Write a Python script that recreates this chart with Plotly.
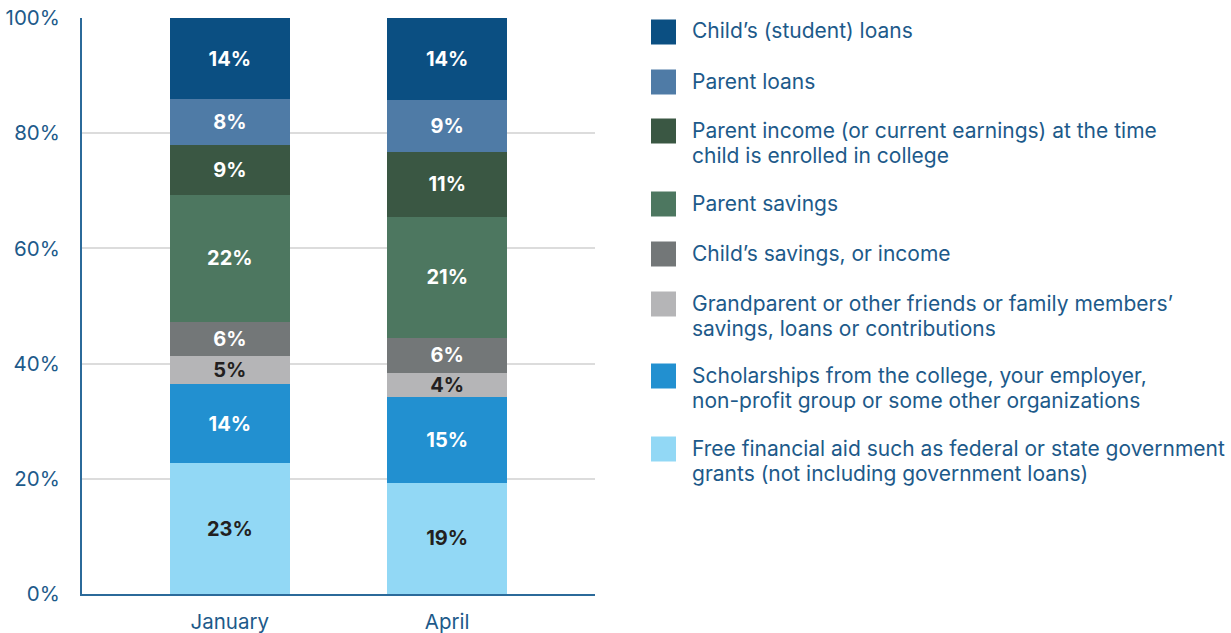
import plotly.graph_objects as go

categories = ["January", "April"]
series_names = [
    "Free financial aid such as federal or state government<br>grants (not including government loans)",
    "Scholarships from the college, your employer,<br>non-profit group or some other organizations",
    "Grandparent or other friends or family members’<br>savings, loans or contributions",
    "Child’s savings, or income",
    "Parent savings",
    "Parent income (or current earnings) at the time<br>child is enrolled in college",
    "Parent loans",
    "Child’s (student) loans",
]
free_aid = [22.7, 19.3]
scholarships = [13.7, 14.9]
grandparent = [5.0, 4.2]
child_savings = [5.9, 6.1]
parent_savings = [21.9, 21.0]
parent_income = [8.7, 11.3]
parent_loans = [8.0, 8.9]
child_loans = [14.1, 14.3]
values = [free_aid, scholarships, grandparent, child_savings, parent_savings,
          parent_income, parent_loans, child_loans]
labels = [["23%", "19%"], ["14%", "15%"], ["5%", "4%"], ["6%", "6%"],
          ["22%", "21%"], ["9%", "11%"], ["8%", "9%"], ["14%", "14%"]]
colors = ["#92d8f5", "#2290d0", "#b5b5b7", "#737778", "#4d7760", "#3a5743", "#4f7ba6", "#0b4f82"]
text_colors = ["#231f20", "white", "#231f20", "white", "white", "white", "white", "white"]
y_ticks = [0, 20, 40, 60, 80, 100]
y_tick_labels = ["0%", "20%", "40%", "60%", "80%", "100%"]

FONT = "Inter"
TXT = "#1d5a8a"

fig = go.Figure()
for name, vals, lab, col, tcol in zip(series_names, values, labels, colors, text_colors):
    fig.add_trace(go.Bar(
        x=categories, y=vals, name=name, marker=dict(color=col, line=dict(width=0)),
        text=lab, textposition="inside", insidetextanchor="middle", textangle=0,
        constraintext="none",
        textfont=dict(family=FONT, size=20, color=tcol, weight="bold"),
        width=0.553, showlegend=False,
    ))

W, H = 1231, 633
L, R, T, B = 82, 595, 18, 594

def px_x(px):
    return (px - L) / (R - L)

def px_y(py):
    return (B - py) / (B - T)

legend_centers = [449, 376, 304, 254, 204, 131, 82, 32]
line_gap = 25
shapes = []
annotations = []
for name, col, cy in zip(series_names, colors, legend_centers):
    shapes.append(dict(type="rect", xref="paper", yref="paper",
                       x0=px_x(651), x1=px_x(676), y0=px_y(cy + 12.5), y1=px_y(cy - 12.5),
                       fillcolor=col, line=dict(width=0)))
    for i, line in enumerate(name.split("<br>")):
        annotations.append(dict(xref="paper", yref="paper", x=px_x(690), y=px_y(cy - 1 + i * line_gap),
                                xanchor="left", yanchor="middle", align="left", showarrow=False,
                                text=line, font=dict(family=FONT, size=21, color=TXT)))

fig.update_layout(
    width=W, height=H, margin=dict(l=L, r=W - R, t=T, b=H - B, autoexpand=False),
    barmode="stack", plot_bgcolor="white", paper_bgcolor="white",
    xaxis=dict(range=[-0.68, 1.68], showline=True, linecolor="#2b6a9a", linewidth=2,
               tickfont=dict(family=FONT, size=20.5, color=TXT), ticks="", showgrid=False,
               automargin=False, ticklabelstandoff=8, ticklabeloverflow="allow"),
    yaxis=dict(range=[0, 100], tickvals=y_ticks, ticktext=y_tick_labels,
               showline=True, linecolor="#2b6a9a", linewidth=2, showgrid=True,
               gridcolor="#dcdcdc", gridwidth=1.5, zeroline=False, automargin=False,
               ticklabeloverflow="allow",
               tickfont=dict(family=FONT, size=20.5, color=TXT), ticks="", ticklabelstandoff=16),
    shapes=shapes, annotations=annotations, uniformtext=dict(mode=False),
)
fig.write_html("out.html", config={"displayModeBar": False},
               post_script="document.body.style.margin='0';document.body.style.overflow='hidden';")
